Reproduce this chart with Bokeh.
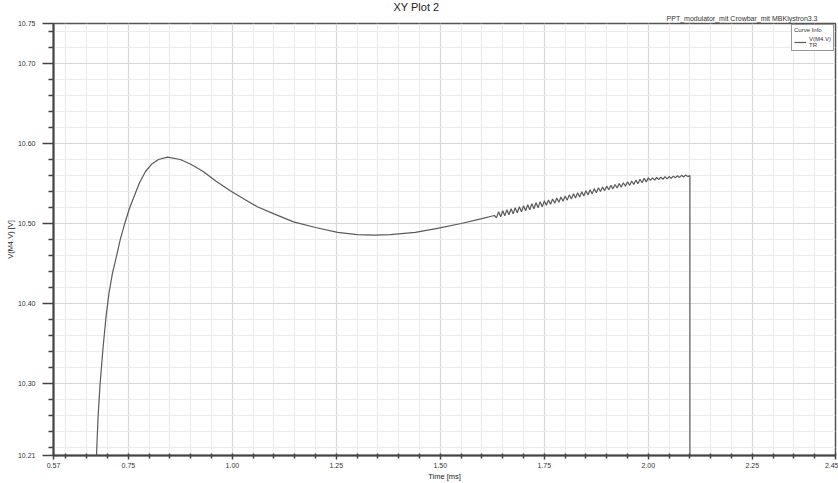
from bokeh.plotting import figure
from bokeh.models import FixedTicker, NumeralTickFormatter, Legend, LegendItem, ColumnDataSource, Title
from bokeh.embed import file_html
from bokeh.resources import INLINE

# ---- data ----
time_ms = [0.660, 0.6734, 0.677, 0.6818, 0.689, 0.6962, 0.7034, 0.7118, 0.7214, 0.731, 0.7407,
           0.7527, 0.7647, 0.7767, 0.7912, 0.8056, 0.8224, 0.844, 0.875, 0.900, 0.930, 0.960,
           0.995, 1.030, 1.060, 1.100, 1.147, 1.200, 1.253, 1.300, 1.340, 1.380, 1.440, 1.493,
           1.550, 1.600,
           1.630, 1.635, 1.640, 1.645, 1.650, 1.655, 1.660, 1.665, 1.670, 1.675,
           1.680, 1.685, 1.690, 1.695, 1.700, 1.705, 1.710, 1.715, 1.720, 1.725,
           1.730, 1.735, 1.740, 1.745, 1.750, 1.755, 1.760, 1.765, 1.770, 1.775,
           1.780, 1.785, 1.790, 1.795, 1.800, 1.805, 1.810, 1.815, 1.820, 1.825,
           1.830, 1.835, 1.840, 1.845, 1.850, 1.855, 1.860, 1.865, 1.870, 1.875,
           1.880, 1.885, 1.890, 1.895, 1.900, 1.905, 1.910, 1.915, 1.920, 1.925,
           1.930, 1.935, 1.940, 1.945, 1.950, 1.955, 1.960, 1.965, 1.970, 1.975,
           1.980, 1.985, 1.990, 1.995, 2.000, 2.005, 2.010, 2.015, 2.020, 2.025,
           2.030, 2.035, 2.040, 2.045, 2.050, 2.055, 2.060, 2.065, 2.070, 2.075,
           2.080, 2.085, 2.090, 2.095, 2.100, 2.100]
v_m4 = [10.080, 10.210, 10.257, 10.298, 10.344, 10.383, 10.413, 10.438, 10.459, 10.481, 10.499,
        10.519, 10.535, 10.551, 10.565, 10.574, 10.580, 10.583, 10.580, 10.574, 10.565, 10.553,
        10.541, 10.530, 10.521, 10.512, 10.502, 10.495, 10.489, 10.486, 10.4855, 10.486, 10.489, 10.494,
        10.500, 10.506,
        10.5100, 10.5071, 10.5148, 10.5084, 10.5160, 10.5096, 10.5173, 10.5109, 10.5185, 10.5121,
        10.5198, 10.5134, 10.5210, 10.5146, 10.5223, 10.5159, 10.5235, 10.5171, 10.5248, 10.5184,
        10.5260, 10.5196, 10.5273, 10.5209, 10.5283, 10.5227, 10.5293, 10.5240, 10.5306, 10.5253,
        10.5319, 10.5266, 10.5332, 10.5279, 10.5345, 10.5292, 10.5358, 10.5305, 10.5371, 10.5318,
        10.5384, 10.5331, 10.5397, 10.5344, 10.5410, 10.5357, 10.5423, 10.5370, 10.5436, 10.5383,
        10.5447, 10.5400, 10.5456, 10.5411, 10.5467, 10.5422, 10.5477, 10.5433, 10.5488, 10.5444,
        10.5499, 10.5455, 10.5510, 10.5465, 10.5521, 10.5476, 10.5532, 10.5487, 10.5542, 10.5498,
        10.5553, 10.5509, 10.5564, 10.5520, 10.5570, 10.5538, 10.5570, 10.5543, 10.5575, 10.5548,
        10.5580, 10.5553, 10.5585, 10.5558, 10.5587, 10.5566, 10.5592, 10.5571, 10.5597, 10.5576,
        10.5602, 10.5581, 10.5607, 10.5586, 10.5600, 10.000]

x_major = [0.57, 0.75, 1.00, 1.25, 1.50, 1.75, 2.00, 2.25, 2.45]
x_minor = [0.60, 0.65, 0.70, 0.80, 0.85, 0.90, 0.95, 1.05, 1.10, 1.15, 1.20, 1.30, 1.35, 1.40,
           1.45, 1.55, 1.60, 1.65, 1.70, 1.80, 1.85, 1.90, 1.95, 2.05, 2.10, 2.15, 2.20, 2.30,
           2.35, 2.40]
y_major = [10.21, 10.30, 10.40, 10.50, 10.60, 10.70, 10.75]
y_minor = [10.22, 10.24, 10.26, 10.28, 10.32, 10.34, 10.36, 10.38, 10.42, 10.44, 10.46, 10.48,
           10.52, 10.54, 10.56, 10.58, 10.62, 10.64, 10.66, 10.68, 10.72, 10.74]

title_text = "XY Plot 2"
subtitle_text = "PPT_modulator_mit Crowbar_mit MBKlystron3.3"
series_name = "V(M4.V)"
x_label = "Time [ms]"
y_label = "V(M4.V) [V]"

FONT = "Liberation Sans"

p = figure(width=838, height=483, x_range=(0.57, 2.45), y_range=(10.21, 10.75),
           output_backend="svg", toolbar_location=None, title=None,
           min_border_left=53, min_border_right=3, min_border_top=0, min_border_bottom=25)
p.background_fill_color = "white"
p.border_fill_color = "white"
p.outline_line_color = "#555555"
p.outline_line_width = 1.5

src = ColumnDataSource(dict(t=time_ms, v=v_m4))
r = p.line("t", "v", source=src, line_color="#5a5a5a", line_width=1.2)

# axes
for ax in (p.xaxis[0], p.yaxis[0]):
    ax.axis_line_color = "#444444"
    ax.axis_line_width = 2
    ax.major_tick_line_color = "#444444"
    ax.minor_tick_line_color = "#444444"
    ax.major_tick_line_width = 1.5
    ax.minor_tick_line_width = 1.5
    ax.major_label_text_font = FONT
    ax.major_label_text_font_size = "7px"
    ax.major_label_text_color = "#333333"
    ax.axis_label_text_font = FONT
    ax.axis_label_text_font_size = "7.5px"
    ax.axis_label_text_font_style = "normal"
    ax.axis_label_text_color = "#222222"
    ax.formatter = NumeralTickFormatter(format="0.00")

p.xaxis[0].ticker = FixedTicker(ticks=x_major, minor_ticks=x_minor)
p.xaxis[0].major_tick_out = 4
p.xaxis[0].major_tick_in = 2
p.xaxis[0].minor_tick_out = 3
p.xaxis[0].minor_tick_in = 2
p.xaxis[0].major_label_standoff = 3
p.xaxis[0].axis_label = x_label
p.xaxis[0].axis_label_standoff = 1

p.yaxis[0].ticker = FixedTicker(ticks=y_major, minor_ticks=y_minor)
p.yaxis[0].major_tick_out = 11
p.yaxis[0].major_tick_in = 0
p.yaxis[0].minor_tick_out = 5
p.yaxis[0].minor_tick_in = 0
p.yaxis[0].major_label_standoff = 7
p.yaxis[0].axis_label = y_label
p.yaxis[0].axis_label_standoff = 0

# grids
for g in (p.xgrid[0], p.ygrid[0]):
    g.grid_line_color = "#d6d6d6"
    g.grid_line_width = 1.2
    g.minor_grid_line_color = "#ececec"
    g.minor_grid_line_width = 1.2
p.xgrid[0].ticker = FixedTicker(ticks=x_major, minor_ticks=x_minor)
p.ygrid[0].ticker = FixedTicker(ticks=y_major, minor_ticks=y_minor)

# titles: subtitle closest to the frame, main title above it
sub = Title(text=subtitle_text, align="right", offset=18, standoff=3,
            text_font=FONT, text_font_size="7px", text_font_style="normal", text_color="#333333")
main = Title(text=title_text, align="left", offset=340, standoff=-3,
             text_font=FONT, text_font_size="11px", text_font_style="normal", text_color="#222222")
p.add_layout(sub, "above")
p.add_layout(main, "above")

# legend
legend = Legend(items=[LegendItem(label=series_name + "\nTR", renderers=[r])],
                title="Curve Info", location="top_right", margin=1, padding=2, spacing=0,
                border_line_color="#333333", border_line_width=1,
                background_fill_color="white", background_fill_alpha=1,
                title_text_font=FONT, title_text_font_size="6px", title_text_font_style="normal",
                title_text_color="#333333", title_standoff=3,
                label_text_font=FONT, label_text_font_size="6px", label_text_color="#333333",
                label_standoff=3, glyph_width=12, glyph_height=6, label_height=6, label_width=10)
p.add_layout(legend)

open("out.html", "w").write(file_html(p, INLINE))
